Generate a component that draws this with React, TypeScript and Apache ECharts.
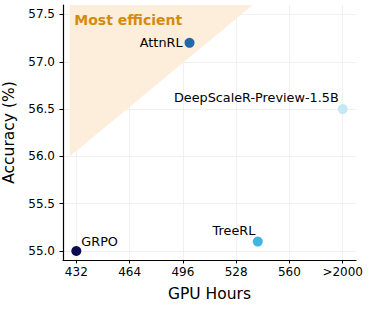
import React, { useEffect, useRef } from "react";
import * as echarts from "echarts";

const methods = ["GRPO", "AttnRL", "TreeRL", "DeepScaleR-Preview-1.5B"];
const gpuHours = [432, 500, 541, 592]; // 592 = position of ">2000"
const accuracy = [55.0, 57.2, 55.1, 56.5];
const pointColors = ["#0b0b50", "#2468aa", "#42b4e0", "#c6e8f4"];
const xTicks = [432, 464, 496, 528, 560, 592];
const xTickLabels = ["432", "464", "496", "528", "560", ">2000"];
const yTicks = [55.0, 55.5, 56.0, 56.5, 57.0, 57.5];
const regionX = [428, 428, 538];
const regionY = [56.0, 57.6, 57.6];
const annotationText = "Most efficient";
const annotationPos = [430.8, 57.44];

const FONT = "DejaVu Sans";

// label offsets relative to symbol box (size 10)
const labelPlacement: any[] = [
  { position: [10, -4.5], align: "left" },
  { position: [-2, 5], align: "right" },
  { position: [2.5, -6.5], align: "right" },
  { position: [1, -7], align: "right" },
];

export default function App() {
  const ref = useRef<HTMLDivElement>(null);
  useEffect(() => {
    const chart = echarts.init(ref.current!, null, { renderer: "svg" });
    const option: any = {
      animation: false,
      grid: { left: 63, right: 13, top: 5, bottom: 49, containLabel: false, outerBoundsMode: "none" },
      xAxis: {
        type: "value",
        min: 424,
        max: 600,
        name: "GPU Hours",
        nameLocation: "middle",
        nameGap: 26,
        nameTextStyle: { fontFamily: FONT, fontSize: 15.5, color: "#000" },
        axisLine: { show: true, lineStyle: { color: "#000", width: 1.2 } },
        axisTick: { show: true, length: 3.5, customValues: xTicks, lineStyle: { color: "#000", width: 1 } },
        axisLabel: {
          customValues: xTicks,
          margin: 6,
          fontFamily: FONT,
          fontSize: 12,
          color: "#000",
          formatter: (v: number) => {
            const i = xTicks.indexOf(v);
            return i >= 0 ? xTickLabels[i] : "";
          },
        },
        splitLine: { show: true, lineStyle: { color: "#ececec", width: 0.8 } },
      },
      yAxis: {
        type: "value",
        min: 54.905,
        max: 57.6,
        name: "Accuracy (%)",
        nameLocation: "middle",
        nameGap: 42,
        nameTextStyle: { fontFamily: FONT, fontSize: 15.5, color: "#000" },
        axisLine: { show: true, lineStyle: { color: "#000", width: 1.2 } },
        axisTick: { show: true, length: 3.5, customValues: yTicks, lineStyle: { color: "#000", width: 1 } },
        axisLabel: {
          customValues: yTicks,
          margin: 8,
          fontFamily: FONT,
          fontSize: 12,
          color: "#000",
          formatter: (v: number) => v.toFixed(1),
        },
        splitLine: { show: true, lineStyle: { color: "#ececec", width: 0.8 } },
      },
      series: [
        {
          type: "custom",
          z: 1,
          silent: true,
          data: regionX.map((x, i) => [x, regionY[i]]),
          renderItem: (params: any, api: any) => {
            if (params.dataIndex !== 0) return null;
            const pts = regionX.map((x, i) => api.coord([x, regionY[i]]));
            return {
              type: "polygon",
              shape: { points: pts },
              style: { fill: "#fdeedb" },
            };
          },
        },
        {
          type: "custom",
          z: 3,
          silent: true,
          data: [annotationPos],
          renderItem: (params: any, api: any) => {
            const p = api.coord(annotationPos);
            return {
              type: "text",
              x: p[0],
              y: p[1],
              style: {
                text: annotationText,
                fill: "#d68a0f",
                font: `bold 14px '${FONT}'`,
                textAlign: "left",
                textVerticalAlign: "middle",
              },
            };
          },
        },
        {
          type: "scatter",
          z: 4,
          symbolSize: 10,
          data: methods.map((m, i) => ({
            value: [gpuHours[i], accuracy[i]],
            name: m,
            itemStyle: { color: pointColors[i], opacity: 1 },
            label: {
              show: true,
              formatter: m,
              position: labelPlacement[i].position,
              align: labelPlacement[i].align,
              verticalAlign: "middle",
              fontFamily: FONT,
              fontSize: 12.8,
              color: "#000",
            },
          })),
        },
      ],
    };
    chart.setOption(option);
    return () => chart.dispose();
  }, []);
  return (
    <div
      ref={ref}
      style={{ position: "fixed", left: 0, top: 0, width: 369, height: 309, background: "#fff" }}
    />
  );
}
